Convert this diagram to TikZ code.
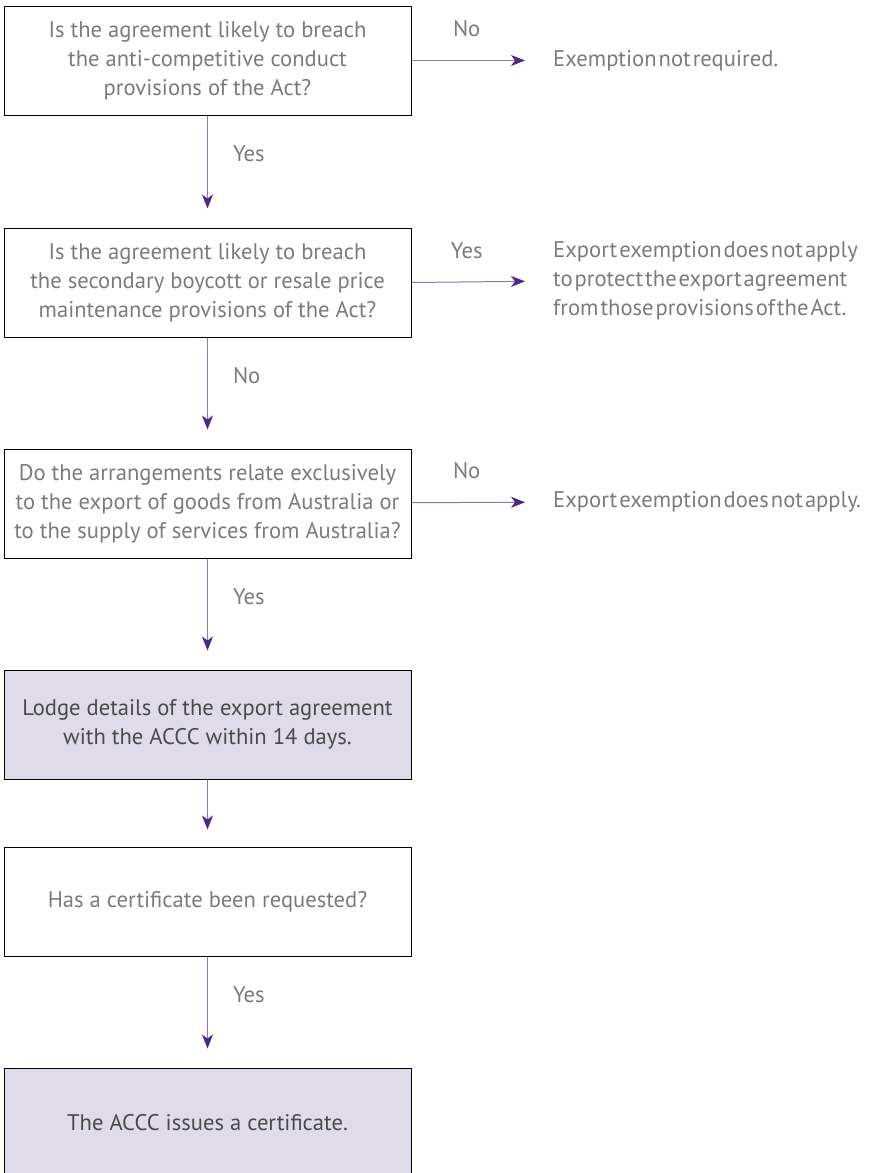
\documentclass[tikz,border=0pt]{standalone}
\usepackage{fontspec}
\setmainfont{PT Sans}
\usetikzlibrary{positioning, arrows.meta}
\definecolor{linepurple}{HTML}{8E78BE}
\definecolor{tippurple}{HTML}{4B2A86}
\definecolor{boxfill}{HTML}{DFDBEB}
\definecolor{softgray}{HTML}{7A7B7E}
\definecolor{darkgray}{HTML}{4A4A4C}
\newcommand{\flowfont}{\fontsize{22.6}{29}\selectfont}
\newcommand{\tightspace}{\spaceskip=2pt\relax}
\tikzstyle{question}=[draw=black, line width=1pt, rectangle, minimum width=407pt, minimum height=109pt, inner sep=0pt, align=center, text=softgray]
\tikzstyle{action}=[question, fill=boxfill, text=darkgray]
\tikzstyle{outcome}=[align=left, text=softgray, inner sep=0pt, anchor=west, font=\flowfont\tightspace]
\tikzstyle{branch}=[text=softgray, inner sep=0pt]
\tikzstyle{arrow}=[line width=1pt, draw=linepurple, -{Stealth[length=14pt, width=11pt, inset=4pt, color=tippurple]}]

\begin{document}
\begin{tikzpicture}[x=1pt, y=-1pt, node distance=112pt, font=\flowfont]
	\useasboundingbox (0,0) rectangle (872,1173);
	\node [question] (breach) at (207.5,60.5) {Is the agreement likely to breach\\the anti-competitive conduct\\provisions of the Act?};
	\node [question, below=112pt of breach] (boycott) {Is the agreement likely to breach\\the secondary boycott or resale price\\maintenance provisions of the Act?};
	\node [question, below=111pt of boycott] (exports) {Do the arrangements relate exclusively\\to the export of goods from Australia or\\to the supply of services from Australia?};
	\node [action, below=111pt of exports] (lodge) {Lodge details of the export agreement\\with the ACCC within 14 days.};
	\node [question, below=67pt of lodge] (request) {Has a certificate been requested?};
	\node [action, below=111pt of request] (certificate) {The ACCC issues a certificate.};
	
	\node [outcome] (notneeded) at (553,60.5) {Exemption not required.};
	\node [outcome] (noprotect) at (553,281) {Export exemption does not apply\\to protect the export agreement\\from those provisions of the Act.};
	\node [outcome] (noapply) at (553,501.5) {Export exemption does not apply.};
	
	\draw [arrow, shorten >=28pt] (breach) -- node[branch, pos=0.39, above=23pt] {No} (notneeded);
	\draw [arrow, shorten >=28pt] (boycott.east) -- node[branch, pos=0.39, above=23pt] {Yes} (noprotect.west);
	\draw [arrow, shorten >=28pt] (exports) -- node[branch, pos=0.39, above=23pt] {No} (noapply);
	
	\draw [arrow, shorten >=19pt] (breach) -- node[branch, pos=0.34, right=25pt] {Yes} (boycott);
	\draw [arrow, shorten >=19pt] (boycott) -- node[branch, pos=0.34, right=25pt] {No} (exports);
	\draw [arrow, shorten >=19pt] (exports) -- node[branch, pos=0.34, right=25pt] {Yes} (lodge);
	\draw [arrow, shorten >=17pt] (lodge) -- (request);
	\draw [arrow, shorten >=19pt] (request) -- node[branch, pos=0.34, right=25pt] {Yes} (certificate);
\end{tikzpicture}
\end{document}
